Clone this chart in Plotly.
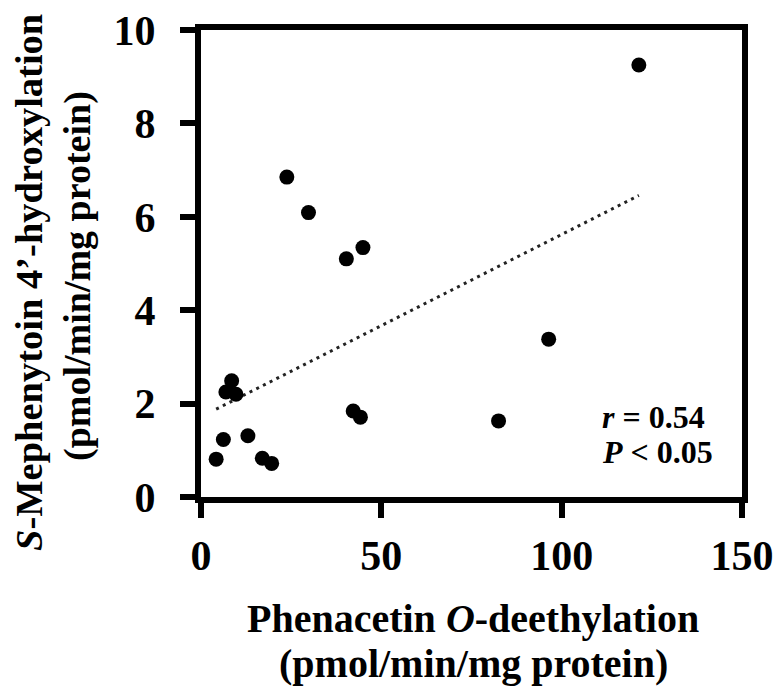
import numpy as np
import plotly.graph_objects as go

# Data
phenacetin_odeethylation = [121.4, 23.8, 29.8, 40.3, 44.9, 96.4, 82.5, 42.2, 44.2,
                            8.5, 6.9, 9.7, 6.2, 4.2, 13.0, 17.0, 19.6]
mephenytoin_hydroxylation = [9.25, 6.85, 6.09, 5.10, 5.34, 3.38, 1.63, 1.84, 1.71,
                             2.49, 2.25, 2.20, 1.23, 0.81, 1.31, 0.83, 0.72]
x_ticks = [0, 50, 100, 150]
y_ticks = [0, 2, 4, 6, 8, 10]
stat_labels = ["<i>r</i> = 0.54", "<i>P</i> < 0.05"]

x = np.array(phenacetin_odeethylation)
y = np.array(mephenytoin_hydroxylation)
slope, intercept = np.polyfit(x, y, 1)
fit_x = np.array([x.min(), x.max()])
fit_y = slope * fit_x + intercept

FONT = "Liberation Serif"

fig = go.Figure()
fig.add_trace(go.Scatter(
    x=fit_x, y=fit_y, mode="lines",
    line=dict(color="#222222", width=3, dash="3px,4.5px"),
    showlegend=False, hoverinfo="skip"))
fig.add_trace(go.Scatter(
    x=x, y=y, mode="markers",
    marker=dict(color="black", size=15),
    showlegend=False))

L, R, T, B = 201, 40, 30, 194
W, H = 782, 691
pw, ph = W - L - R, H - T - B

def px(xp):
    return (xp - L) / pw

def py(yp):
    return (H - B - yp) / ph

axis_common = dict(
    showline=True, linecolor="black", linewidth=6, mirror=True,
    ticks="outside", ticklen=15, tickwidth=6, tickcolor="black",
    showgrid=False, zeroline=False, automargin=False,
    tickfont=dict(family=FONT, size=42, color="black", weight="bold"),
)

fig.update_layout(
    width=W, height=H,
    margin=dict(l=L, r=R, t=T, b=B),
    paper_bgcolor="white", plot_bgcolor="white",
    xaxis=dict(range=[0, 150], tickvals=x_ticks, ticktext=[str(v) for v in x_ticks],
               ticklabelstandoff=2, **axis_common),
    yaxis=dict(range=[0, 10], tickvals=y_ticks, ticktext=[str(v) for v in y_ticks],
               ticklabelstandoff=16, **axis_common),
    font=dict(family=FONT, color="black"),
)

annos = [
    dict(text="Phenacetin <i>O</i>-deethylation", x=px(473), y=py(618), size=40),
    dict(text="(pmol/min/mg protein)", x=px(473), y=py(663), size=40),
    dict(text="<i>S</i>-Mephenytoin 4’-hydroxylation", x=px(29), y=py(282), textangle=-90, size=38.5),
    dict(text="(pmol/min/mg protein)", x=px(77), y=py(276), textangle=-90, size=38),
]
for a in annos:
    size = a.pop("size")
    fig.add_annotation(xref="paper", yref="paper", showarrow=False,
                       xanchor="center", yanchor="middle",
                       font=dict(family=FONT, size=size, color="black", weight="bold"), **a)

stat_font = dict(family=FONT, size=32, color="black", weight="bold")
for text, ypix in zip(stat_labels, [417, 452]):
    fig.add_annotation(xref="paper", yref="paper", showarrow=False,
                       x=px(600), y=py(ypix), xanchor="left", yanchor="middle",
                       text=text, font=stat_font)

fig.write_html("out.html",
               config={"displayModeBar": False},
               post_script="document.body.style.margin='0px';document.body.style.overflow='hidden';")
